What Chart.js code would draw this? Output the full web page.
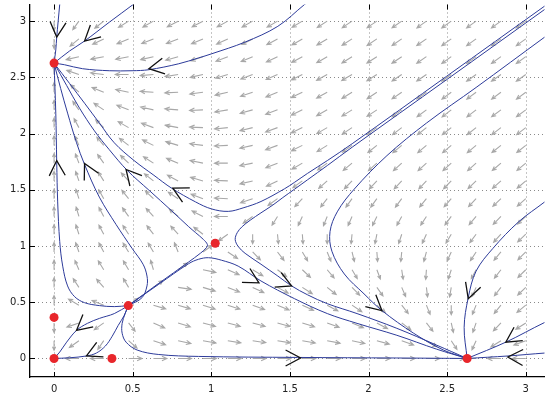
<!DOCTYPE html>
<html>
<head>
<meta charset="utf-8">
<script src="https://cdn.jsdelivr.net/npm/chart.js@4.4.0/dist/chart.umd.min.js"></script>
<style>
  html, body { margin: 0; padding: 0; background: #fff; }
  canvas { display: block; }
</style>
</head>
<body>
<canvas id="phase" width="549" height="399"></canvas>
<script>
// equilibrium points (red dots)
const eqX = [0, 0, 0.368, 0.472, 1.025, 0, 2.627];
const eqY = [0, 0.365, 0, 0.470, 1.025, 2.627, 0];

const tickValues = [0, 0.5, 1, 1.5, 2, 2.5, 3];

// direction field: sample positions (same for x and y) and arrow angles in degrees,
// one row per y position (bottom row first), one entry per x position
const fieldGrid = [0, 0.158, 0.316, 0.474, 0.632, 0.789, 0.947, 1.105, 1.263, 1.421,
                   1.579, 1.737, 1.895, 2.053, 2.211, 2.368, 2.526, 2.684, 2.842, 3];
const fieldAngles = [
  [null, 180, 180, 0, 0, 0, 0, 0, 0, 0, 0, 0, 0, 0, 0, 0, 0, 180, 180, 180],
  [270, 225, 244, 309, 335, 343, 346, 347, 348, 347, 346, 345, 343, 339, 333, 321, 295, 252, 221, 207],
  [270, 206, 225, 299, 328, 336, 339, 339, 339, 338, 336, 333, 329, 323, 313, 299, 279, 256, 236, 222],
  [90, 141, 151, 45, 337, 337, 336, 335, 333, 330, 327, 323, 317, 309, 299, 286, 270, 254, 240, 229],
  [90, 115, 122, 113, 45, 348, 337, 331, 327, 323, 318, 312, 305, 297, 287, 275, 263, 252, 241, 233],
  [90, 107, 114, 113, 102, 45, 344, 328, 320, 313, 307, 301, 293, 285, 276, 267, 257, 249, 241, 234],
  [90, 104, 111, 114, 113, 106, 45, 317, 305, 299, 293, 286, 280, 273, 266, 259, 252, 245, 239, 234],
  [90, 103, 111, 115, 119, 123, 133, 225, 270, 274, 273, 270, 266, 262, 257, 252, 247, 242, 237, 233],
  [90, 102, 111, 117, 123, 131, 145, 180, 225, 246, 252, 254, 253, 251, 249, 245, 242, 239, 235, 232],
  [90, 103, 112, 120, 127, 137, 152, 176, 205, 225, 236, 241, 243, 243, 242, 240, 238, 236, 233, 231],
  [90, 104, 114, 123, 132, 143, 158, 177, 198, 214, 225, 231, 235, 236, 236, 236, 235, 233, 231, 230],
  [90, 105, 117, 127, 138, 150, 164, 180, 196, 209, 219, 225, 229, 231, 232, 232, 232, 231, 230, 229],
  [90, 107, 121, 133, 145, 157, 170, 184, 197, 207, 215, 221, 225, 228, 229, 230, 230, 229, 228, 228],
  [90, 111, 127, 141, 153, 165, 177, 188, 199, 207, 214, 219, 223, 225, 227, 228, 228, 228, 227, 227],
  [90, 117, 137, 151, 163, 174, 184, 193, 201, 208, 214, 218, 221, 223, 225, 226, 227, 227, 226, 226],
  [90, 129, 151, 164, 175, 184, 191, 198, 205, 210, 214, 218, 221, 223, 224, 225, 226, 226, 226, 226],
  [90, 155, 171, 180, 187, 193, 198, 203, 208, 212, 215, 218, 220, 222, 224, 224, 225, 225, 225, 225],
  [270, 198, 195, 196, 198, 202, 205, 208, 211, 214, 217, 219, 221, 222, 223, 224, 225, 225, 225, 225],
  [270, 229, 214, 210, 209, 209, 211, 213, 215, 217, 219, 220, 222, 223, 224, 224, 225, 225, 225, 225],
  [270, 243, 228, 221, 218, 216, 216, 217, 218, 219, 220, 222, 223, 223, 224, 225, 225, 225, 225, 225]
];

// trajectories, [x, y] pairs
const trajTopLeft = [[0.039, 3.192], [0.036, 3.148], [0.026, 2.998], [0.017, 2.858], [0.011, 2.744], [0, 2.627]];
const trajTopSlant = [[0.543, 3.192], [0.503, 3.148], [0.351, 2.990], [0.194, 2.823], [0.099, 2.735], [0, 2.627]];
const trajTopArc = [[1.637, 3.192], [1.593, 3.148], [1.423, 2.954], [1.215, 2.814], [1.001, 2.709], [0.919, 2.673],
  [0.793, 2.621], [0.603, 2.568], [0.496, 2.559], [0.351, 2.559], [0.181, 2.577], [0.067, 2.612], [0, 2.627]];
const trajDiagUpper = [[3.164, 3.178], [3.120, 3.134], [2.495, 2.508], [1.896, 1.910], [1.738, 1.760], [1.612, 1.646],
  [1.530, 1.567], [1.467, 1.510], [1.316, 1.396], [1.202, 1.339], [1.108, 1.308], [1.001, 1.330], [0.900, 1.392],
  [0.748, 1.514], [0.635, 1.629], [0.509, 1.760], [0.383, 1.918], [0.288, 2.094], [0.194, 2.270], [0.099, 2.445], [0, 2.627]];
const trajDiagLower = [[3.164, 3.148], [3.120, 3.104], [2.495, 2.478], [1.896, 1.879], [1.738, 1.716], [1.612, 1.589],
  [1.530, 1.506], [1.455, 1.431], [1.392, 1.365], [1.316, 1.295], [1.247, 1.229], [1.196, 1.172], [1.165, 1.119],
  [1.152, 1.058], [1.171, 0.996], [1.215, 0.935], [1.316, 0.838], [1.423, 0.733], [1.511, 0.645], [1.612, 0.566],
  [1.738, 0.487], [1.927, 0.399], [2.180, 0.268], [2.432, 0.119], [2.627, 0]];
const trajSourceUp = [[0.472, 0.470], [0.666, 0.668], [0.856, 0.858], [0.931, 0.936], [0.969, 0.985], [0.975, 1.014],
  [0.950, 1.058], [0.900, 1.119], [0.856, 1.172], [0.748, 1.313], [0.603, 1.497], [0.465, 1.673], [0.351, 1.857],
  [0.257, 2.024], [0.162, 2.226], [0.080, 2.428], [0, 2.627]];
const trajSourceRight = [[0.472, 0.470], [0.666, 0.660], [0.856, 0.843], [0.919, 0.882], [0.982, 0.896], [1.064, 0.874],
  [1.171, 0.821], [1.316, 0.689], [1.530, 0.531], [1.738, 0.399], [1.927, 0.312], [2.180, 0.206], [2.432, 0.083], [2.627, 0]];
const trajRightBend = [[3.164, 2.902], [3.120, 2.858], [2.684, 2.410], [2.369, 2.094], [2.117, 1.804], [1.909, 1.506],
  [1.801, 1.304], [1.755, 1.128], [1.767, 0.953], [1.846, 0.751], [1.971, 0.575], [2.085, 0.426], [2.287, 0.224],
  [2.476, 0.075], [2.627, 0]];
const trajRightHigh = [[3.189, 1.471], [3.120, 1.392], [2.955, 1.216], [2.791, 0.979], [2.684, 0.777], [2.634, 0.540],
  [2.608, 0.277], [2.627, 0]];
const trajRightMid = [[3.189, 0.356], [3.120, 0.320], [2.873, 0.145], [2.627, 0]];
const trajRightLow = [[3.189, 0.053], [3.120, 0.048], [2.886, 0.022], [2.627, 0]];
const trajSourceAxis = [[0.472, 0.470], [0.452, 0.399], [0.433, 0.312], [0.433, 0.224], [0.458, 0.145], [0.528, 0.075],
  [0.666, 0.035], [0.919, 0.018], [1.549, 0.009], [2.180, 0.004], [2.627, 0]];
const trajOriginUpper = [[0.472, 0.470], [0.383, 0.399], [0.288, 0.356], [0.212, 0.312], [0.143, 0.250], [0.080, 0.145],
  [0.036, 0.057], [0, 0]];
const trajOriginLower = [[0.472, 0.470], [0.446, 0.382], [0.408, 0.294], [0.370, 0.198], [0.326, 0.110], [0.269, 0.048],
  [0.206, 0.022], [0.099, 0.006], [0, 0]];
const trajSourceLeft = [[0.472, 0.470], [0.383, 0.461], [0.288, 0.470], [0.194, 0.496], [0.131, 0.549], [0.086, 0.645],
  [0.055, 0.821], [0.036, 1.040], [0.023, 1.392], [0.017, 1.743], [0.011, 2.182], [0, 2.627]];
const trajSourceLoop = [[0.472, 0.470], [0.559, 0.540], [0.591, 0.645], [0.591, 0.733], [0.566, 0.838], [0.496, 0.979],
  [0.395, 1.190], [0.288, 1.435], [0.194, 1.725], [0.143, 1.918], [0.086, 2.182], [0.042, 2.401], [0, 2.627]];

// black arrowheads on the trajectories: tip position and heading (degrees, screen, y up)
const headX = [0.017, 0.194, 0.603, 0.017, 0.194, 0.458, 0.755, 1.303, 1.511, 1.568, 2.085, 2.634, 2.873, 2.886, 0.143, 0.206];
const headY = [2.858, 2.823, 2.577, 1.760, 1.734, 1.681, 1.514, 0.672, 0.645, 0.004, 0.426, 0.531, 0.145, 0.013, 0.250, 0.022];
const headDir = [265, 222, 190, 92, 117, 131, 153, 330, 336, 0, 319, 251, 213, 178, 220, 205];

const ARROW_LEN = 0.085;

const trajectories = [
  trajTopLeft, trajTopSlant, trajTopArc, trajDiagUpper, trajDiagLower, trajSourceUp, trajSourceRight,
  trajRightBend, trajRightHigh, trajRightMid, trajRightLow, trajSourceAxis, trajOriginUpper,
  trajOriginLower, trajSourceLeft, trajSourceLoop
];

function drawArrowLine(ctx, x0, y0, x1, y1, headLen, spread) {
  const ang = Math.atan2(y1 - y0, x1 - x0);
  ctx.beginPath();
  ctx.moveTo(x0, y0);
  ctx.lineTo(x1, y1);
  ctx.moveTo(x1 - headLen * Math.cos(ang - spread), y1 - headLen * Math.sin(ang - spread));
  ctx.lineTo(x1, y1);
  ctx.lineTo(x1 - headLen * Math.cos(ang + spread), y1 - headLen * Math.sin(ang + spread));
  ctx.stroke();
}

const phasePlugin = {
  id: 'phase',
  beforeDatasetsDraw(chart) {
    const { ctx, chartArea: a, scales: { x, y } } = chart;
    ctx.save();
    ctx.beginPath();
    ctx.rect(a.left, a.top, a.right - a.left, a.bottom - a.top);
    ctx.clip();

    // dotted grid
    ctx.strokeStyle = '#8a8a8a';
    ctx.lineWidth = 1;
    ctx.setLineDash([1, 3]);
    for (const t of tickValues) {
      const px = Math.round(x.getPixelForValue(t)) + 0.5;
      const py = Math.round(y.getPixelForValue(t)) + 0.5;
      ctx.beginPath();
      ctx.moveTo(px, a.top);
      ctx.lineTo(px, a.bottom);
      ctx.moveTo(a.left, py);
      ctx.lineTo(a.right, py);
      ctx.stroke();
    }
    ctx.setLineDash([]);

    // direction field
    ctx.strokeStyle = '#a8a8a8';
    ctx.lineWidth = 1.1;
    fieldAngles.forEach((row, j) => {
      row.forEach((deg, i) => {
        if (deg === null) return;
        const r = deg * Math.PI / 180;
        const gx = fieldGrid[i], gy = fieldGrid[j];
        const x0 = x.getPixelForValue(gx), y0 = y.getPixelForValue(gy);
        const x1 = x.getPixelForValue(gx + ARROW_LEN * Math.cos(r));
        const y1 = y.getPixelForValue(gy + ARROW_LEN * Math.sin(r));
        const len = Math.hypot(x1 - x0, y1 - y0);
        drawArrowLine(ctx, x0, y0, x1, y1, len * 0.4, 0.42);
      });
    });
    ctx.restore();
  },
  afterDatasetsDraw(chart) {
    const { ctx, chartArea: a, scales: { x, y } } = chart;
    ctx.save();
    ctx.beginPath();
    ctx.rect(a.left, a.top, a.right - a.left, a.bottom - a.top);
    ctx.clip();
    ctx.strokeStyle = '#111';
    ctx.lineWidth = 1.3;
    const len = 17, spread = 28 * Math.PI / 180;
    headX.forEach((hx, k) => {
      const tx = x.getPixelForValue(hx), ty = y.getPixelForValue(headY[k]);
      const back = (headDir[k] + 180) * Math.PI / 180;
      ctx.beginPath();
      ctx.moveTo(tx + len * Math.cos(back + spread), ty - len * Math.sin(back + spread));
      ctx.lineTo(tx, ty);
      ctx.lineTo(tx + len * Math.cos(back - spread), ty - len * Math.sin(back - spread));
      ctx.stroke();
    });
    ctx.restore();

    // inward tick marks
    ctx.save();
    ctx.strokeStyle = '#000';
    ctx.lineWidth = 1;
    for (const t of tickValues) {
      const px = Math.round(x.getPixelForValue(t)) + 0.5;
      const py = Math.round(y.getPixelForValue(t)) + 0.5;
      ctx.beginPath();
      ctx.moveTo(px, a.bottom);
      ctx.lineTo(px, a.bottom - 5);
      ctx.moveTo(px, a.top);
      ctx.lineTo(px, a.top + 5);
      ctx.moveTo(a.left, py);
      ctx.lineTo(a.left + 5, py);
      ctx.stroke();
    }
    ctx.restore();
  }
};

const datasets = [{
  data: eqX.map((v, i) => ({ x: v, y: eqY[i] })),
  showLine: false,
  pointRadius: 4.5,
  pointBackgroundColor: '#e8262b',
  pointBorderWidth: 0
}];
trajectories.forEach(t => {
  datasets.push({
    data: t.map(([px, py]) => ({ x: px, y: py })),
    showLine: true,
    pointRadius: 0,
    borderColor: '#2d3b9a',
    borderWidth: 1,
    tension: 0.35,
    fill: false
  });
});

const tickFont = { family: 'DejaVu Sans', size: 10 };
const tickLabel = v => String(v);

new Chart(document.getElementById('phase'), {
  type: 'scatter',
  data: { datasets },
  plugins: [phasePlugin],
  options: {
    responsive: false,
    animation: false,
    devicePixelRatio: 1,
    events: [],
    layout: { padding: 0 },
    plugins: { legend: { display: false }, tooltip: { enabled: false } },
    scales: {
      x: {
        type: 'linear',
        min: -0.153,
        max: 3.119,
        afterBuildTicks: s => { s.ticks = tickValues.map(v => ({ value: v })); },
        afterFit: s => { s.height = 22; s.paddingLeft = 0; s.paddingRight = 0; },
        grid: { display: false, drawTicks: false },
        border: { display: true, color: '#000', width: 1.3 },
        ticks: { font: tickFont, color: '#222', padding: 6, maxRotation: 0, autoSkip: false, callback: tickLabel }
      },
      y: {
        type: 'linear',
        min: -0.165,
        max: 3.148,
        afterBuildTicks: s => { s.ticks = tickValues.map(v => ({ value: v })); },
        afterFit: s => { s.width = 30; s.paddingTop = 0; s.paddingBottom = 0; },
        grid: { display: false, drawTicks: false },
        border: { display: true, color: '#000', width: 1.3 },
        ticks: { font: tickFont, color: '#222', padding: 4, autoSkip: false, callback: tickLabel }
      }
    }
  }
});
</script>
</body>
</html>
